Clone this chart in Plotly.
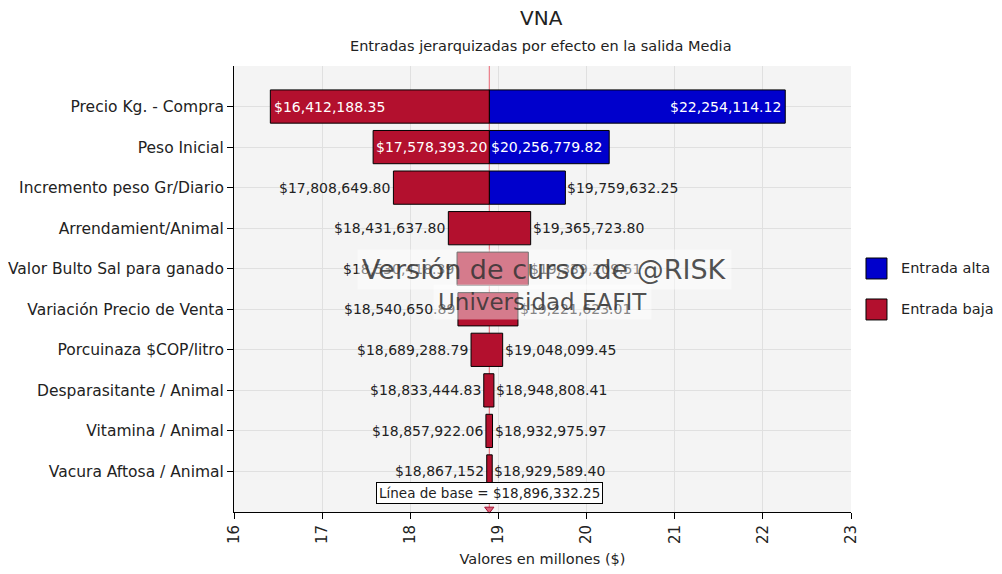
import plotly.graph_objects as go

categories = ["Precio Kg. - Compra", "Peso Inicial", "Incremento peso Gr/Diario",
              "Arrendamient/Animal", "Valor Bulto Sal para ganado", "Variación Precio de Venta",
              "Porcuinaza $COP/litro", "Desparasitante / Animal", "Vitamina / Animal",
              "Vacura Aftosa / Animal"]
low_vals = [16412188.35, 17578393.20, 17808649.80, 18431637.80, 18530418.39, 18540650.89,
            18689288.79, 18833444.83, 18857922.06, 18867152.00]
high_vals = [22254114.12, 20256779.82, 19759632.25, 19365723.80, 19339209.51, 19221623.01,
             19048099.45, 18948808.41, 18932975.97, 18929589.40]
# whether the high side is drawn in blue (Entrada alta) or red (Entrada baja)
high_is_alta = [True, True, True, False, False, False, False, False, False, False]
baseline = 18896332.25
legend_names = ["Entrada alta", "Entrada baja"]

FONT = "DejaVu Sans"
RED = "#b3102e"
BLUE = "#0000cc"
LBL = 14

M = 1e6
n = len(categories)
pos = list(range(n))

red_base, red_len = [], []
blue_pos, blue_base, blue_len = [], [], []
b = baseline / M
for i in range(n):
    lo, hi = low_vals[i] / M, high_vals[i] / M
    if high_is_alta[i]:
        red_base.append(lo); red_len.append(b - lo)
        blue_pos.append(i); blue_base.append(b); blue_len.append(hi - b)
    else:
        red_base.append(lo); red_len.append(hi - lo)

fig = go.Figure()
fig.add_trace(go.Bar(orientation="h", y=blue_pos, x=blue_len, base=blue_base,
                     marker=dict(color=BLUE, line=dict(color="black", width=1)),
                     width=0.82, name=legend_names[0], hoverinfo="skip"))
fig.add_trace(go.Bar(orientation="h", y=pos, x=red_len, base=red_base,
                     marker=dict(color=RED, line=dict(color="black", width=1)),
                     width=0.82, name=legend_names[1], hoverinfo="skip"))


def fmt(v):
    s = f"${v:,.2f}"
    if s.endswith(".00"):
        s = s[:-3]
    return s


annotations = []
for i in range(n):
    lo, hi = low_vals[i] / M, high_vals[i] / M
    if i == 0:
        annotations.append(dict(x=lo, y=i, text=fmt(low_vals[i]), xanchor="left", xshift=2,
                                showarrow=False, font=dict(color="white", size=LBL, family=FONT)))
        annotations.append(dict(x=hi, y=i, text=fmt(high_vals[i]), xanchor="right", xshift=-2,
                                showarrow=False, font=dict(color="white", size=LBL, family=FONT)))
    elif i == 1:
        annotations.append(dict(x=b, y=i, text=fmt(low_vals[i]), xanchor="right", xshift=0,
                                showarrow=False, font=dict(color="white", size=LBL, family=FONT)))
        annotations.append(dict(x=b, y=i, text=fmt(high_vals[i]), xanchor="left", xshift=0,
                                showarrow=False, font=dict(color="white", size=LBL, family=FONT)))
    else:
        annotations.append(dict(x=lo, y=i, text=fmt(low_vals[i]), xanchor="right", xshift=-1,
                                showarrow=False, font=dict(color="#222", size=LBL, family=FONT)))
        annotations.append(dict(x=hi, y=i, text=fmt(high_vals[i]), xanchor="left", xshift=0,
                                showarrow=False, font=dict(color="#222", size=LBL, family=FONT)))

# baseline box
annotations.append(dict(x=b, y=9.53, text="Línea de base = " + fmt(baseline),
                        showarrow=False, bgcolor="white", bordercolor="black", borderwidth=1,
                        borderpad=2, font=dict(color="#222", size=13.5, family=FONT)))

# watermark
annotations.append(dict(x=0.504, y=0.543, xref="paper", yref="paper",
                        text="Versión de curso de @RISK", showarrow=False,
                        bgcolor="rgba(255,255,255,0.45)", borderpad=4,
                        font=dict(color="rgba(50,50,50,0.85)", size=27, family=FONT)))
annotations.append(dict(x=0.5008, y=0.47, xref="paper", yref="paper",
                        text="Universidad EAFIT", showarrow=False,
                        bgcolor="rgba(255,255,255,0.45)", borderpad=4,
                        font=dict(color="rgba(50,50,50,0.85)", size=23, family=FONT)))

# titles
annotations.append(dict(x=0.4976, y=1.1076, xref="paper", yref="paper", text="VNA",
                        showarrow=False, yanchor="middle",
                        font=dict(size=20, family=FONT, color="#222")))
annotations.append(dict(x=0.4976, y=1.0448, xref="paper", yref="paper",
                        text="Entradas jerarquizadas por efecto en la salida Media",
                        showarrow=False, yanchor="middle",
                        font=dict(size=14.5, family=FONT, color="#222")))

# manual legend
shapes = []
leg_colors = [BLUE, RED]
leg_tops = [0.5695, 0.4776]
for name, col, top in zip(legend_names, leg_colors, leg_tops):
    shapes.append(dict(type="rect", xref="paper", yref="paper", x0=1.0243, x1=1.0583,
                       y0=top - 0.047, y1=top, fillcolor=col, line=dict(color="black", width=1)))
    annotations.append(dict(x=1.0778, y=top - 0.0235, xref="paper", yref="paper", text=name,
                            xanchor="left", showarrow=False,
                            font=dict(size=14.5, family=FONT, color="#222")))

shapes.append(dict(type="line", x0=b, x1=b, y0=0, y1=1, yref="paper",
                   line=dict(color="rgba(230,40,60,0.7)", width=1), layer="below"))

fig.add_trace(go.Scatter(x=[b], y=[9.93], mode="markers",
                         marker=dict(symbol="triangle-down", size=8, color="#e0607a",
                                     line=dict(color="#a01030", width=1)),
                         showlegend=False, hoverinfo="skip", cliponaxis=False))

fig.update_layout(
    width=1002, height=574,
    margin=dict(l=226, r=159, t=58, b=70),
    paper_bgcolor="white", plot_bgcolor="#f4f4f4",
    barmode="overlay",
    font=dict(family=FONT, size=14, color="#222"),
    showlegend=False,
    annotations=annotations,
    shapes=shapes,
)
fig.update_xaxes(range=[16, 23], dtick=1, tickangle=-90, ticks="outside", ticklen=6,
                 tickcolor="black", showline=True, linecolor="black", linewidth=1,
                 gridcolor="#e0e0e0", zeroline=False, automargin=False,
                 title=dict(text="Valores en millones ($)", font=dict(size=14.5, family=FONT), standoff=10),
                 tickfont=dict(size=15, family=FONT))
fig.update_yaxes(range=[10, -1], tickvals=pos, ticktext=categories, ticks="outside", ticklen=6,
                 tickcolor="black", showline=True, linecolor="black", linewidth=1,
                 gridcolor="#e0e0e0", zeroline=False, automargin=False,
                 tickfont=dict(size=15.5, family=FONT))

fig.write_html("out.html")
